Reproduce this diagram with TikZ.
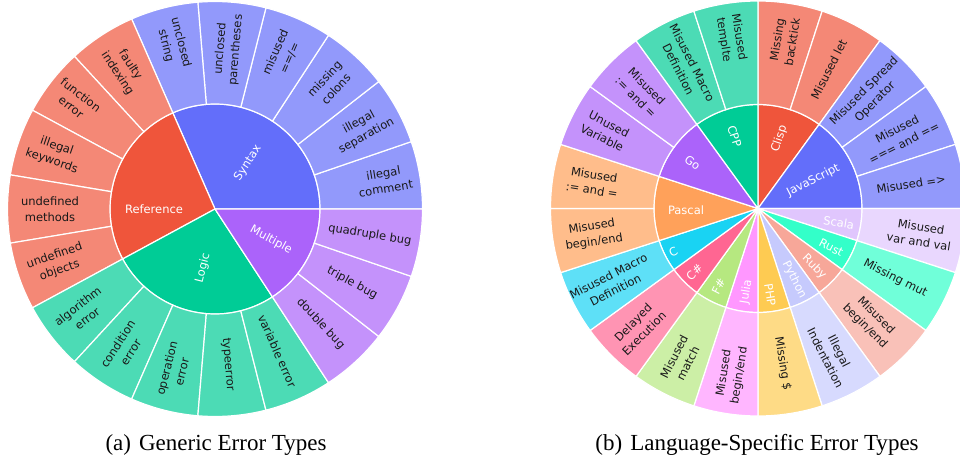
\documentclass[tikz,border=0pt]{standalone}
\usepackage{fontspec}
\setmainfont{Liberation Serif}
\newfontfamily\plotfont{DejaVu Sans}
%Farben
\definecolor{colSyn}{HTML}{636EFA}
\definecolor{colRef}{HTML}{EF553B}
\definecolor{colLog}{HTML}{00CC96}
\definecolor{colMul}{HTML}{AB63FA}
\definecolor{colJS}{HTML}{636EFA}
\definecolor{colClisp}{HTML}{EF553B}
\definecolor{colCPP}{HTML}{00CC96}
\definecolor{colGo}{HTML}{AB63FA}
\definecolor{colPascal}{HTML}{FFA15A}
\definecolor{colC}{HTML}{19D3F3}
\definecolor{colCS}{HTML}{FF6692}
\definecolor{colFS}{HTML}{B6E880}
\definecolor{colJulia}{HTML}{FF97FF}
\definecolor{colPHP}{HTML}{FECB52}
\definecolor{colPython}{HTML}{C6CAFD}
\definecolor{colRuby}{HTML}{F7A799}
\definecolor{colRust}{HTML}{33FFC9}
\definecolor{colScala}{HTML}{E0C6FD}
%Ringsektor: r1, r2, Winkel a, Winkel b, Farbe
\newcommand\sektor[5]{%
	\filldraw[fill=#5,draw=white,line width=1.2pt] (#3:#1) arc[start angle=#3,end angle=#4,radius=#1] -- (#4:#2) arc[start angle=#4,end angle=#3,radius=#2] -- cycle;}
\def\blaetterA{0/colSyn/172/{illegal\\comment},1/colSyn/168/{illegal\\separation},2/colSyn/170/{missing\\colons},3/colSyn/168/{misused\\==/=},4/colSyn/160/{unclosed\\parentheses},5/colSyn/170/{unclosed\\string},6/colRef/167/{faulty\\indexing},7/colRef/176/{function\\error},8/colRef/170/{illegal\\keywords},9/colRef/165/{undefined\\methods},10/colRef/167/{undefined\\objects},11/colLog/168/{algorithm\\error},12/colLog/166/{condition\\error},13/colLog/166/{operation\\error},14/colLog/156/{typeerror},15/colLog/155/{variable error},16/colMul/156/{double bug},17/colMul/156/{triple bug},18/colMul/157/{quadruple bug}}
\def\blaetterB{0/colClisp/170/{Missing\\backtick},1/colClisp/156/{Misused let},2/colJS/158/{Misused Spread\\Operator},3/colJS/160/{Misused\\=== and ==},4/colJS/155/{Misused =>},5/colScala/164/{Misused\\var and val},6/colRust/154/{Missing mut},7/colRuby/159/{Misused\\begin/end},8/colPython/164/{Illegal\\Indentation},9/colPHP/157/{Missing \$},10/colJulia/168/{Misused\\begin/end},11/colFS/170/{Misused\\match},12/colCS/169/{Delayed\\Execution},13/colC/164/{Misused Macro\\Definition},14/colPascal/167/{Misused\\begin/end},15/colPascal/167/{Misused\\:= and =},16/colGo/171/{Unused\\Variable},17/colGo/165/{Misused\\:= and =},18/colCPP/160/{Misused Macro\\Definition},19/colCPP/172/{Misused\\templte}}
\begin{document}
\begin{tikzpicture}[x=1pt,y=1pt,
	leaf/.style={font=\plotfont\fontsize{11.5}{15.5}\selectfont,align=center,text=black!90,inner sep=0pt},
	inner/.style={leaf,text=white}]
	\useasboundingbox (0,0) rectangle (960,459);
	%Generische Fehler
	\begin{scope}[shift={(215,250)}]
		\foreach \i/\j/\col in {0/6/colSyn,6/11/colRef,11/16/colLog,16/19/colMul}{
			\pgfmathsetmacro\wa{\i*360/19}
			\pgfmathsetmacro\wb{\j*360/19}
			\sektor{0.01}{105}{\wa}{\wb}{\col}
		}
		\foreach \i/\col/\rad/\txt in \blaetterA{
			\pgfmathsetmacro\wa{\i*360/19}
			\pgfmathsetmacro\wb{(\i+1)*360/19}
			\sektor{105}{207.5}{\wa}{\wb}{\col!70!white}
		}
		\foreach \i/\col/\rad/\txt in \blaetterA{
			\pgfmathsetmacro\m{(\i+0.5)*360/19}
			\pgfmathsetmacro\rot{cos(\m)>=0 ? \m : \m-180}
			\node[leaf,rotate=\rot] (a\i) at (\m:\rad) {\txt};
		}
		\node[inner,rotate=56.8] (syntax) at (33,46) {Syntax};
		\node[inner] (reference) at (-61,0) {Reference};
		\node[inner,rotate=75.8] (logic) at (-12,-59) {Logic};
		\node[inner,rotate=-28.4] (multiple) at (56,-31) {Multiple};
	\end{scope}
	%Sprachspezifische Fehler
	\begin{scope}[shift={(758,250.5)}]
		\foreach \i/\j/\col in {0/2/colClisp,2/5/colJS,5/6/colScala,6/7/colRust,7/8/colRuby,8/9/colPython,9/10/colPHP,10/11/colJulia,11/12/colFS,12/13/colCS,13/14/colC,14/16/colPascal,16/18/colGo,18/20/colCPP}{
			\pgfmathsetmacro\wa{90-\j*18}
			\pgfmathsetmacro\wb{90-\i*18}
			\sektor{0.01}{104}{\wa}{\wb}{\col}
		}
		\foreach \i/\col/\rad/\txt in \blaetterB{
			\pgfmathsetmacro\wa{90-(\i+1)*18}
			\pgfmathsetmacro\wb{90-\i*18}
			\sektor{104}{207.5}{\wa}{\wb}{\col!70!white}
		}
		\foreach \i/\col/\rad/\txt in \blaetterB{
			\pgfmathsetmacro\m{81-\i*18}
			\pgfmathsetmacro\rot{cos(\m)>=0 ? \m : \m-180}
			\node[leaf,rotate=\rot] (b\i) at (\m:\rad) {\txt};
		}
		\node[inner,rotate=72] (clisp) at (73:73) {Clisp};
		\node[inner,rotate=-72] (cpp) at (108:76) {CPP};
		\node[inner,rotate=27] (js) at (27:62) {JavaScript};
		\node[inner,rotate=-36] (go) at (145:80) {Go};
		\node[inner] (pascal) at (181:72) {Pascal};
		\node[inner,rotate=27] (c) at (207:95) {C};
		\node[inner,rotate=45] (cs) at (225:90) {C\#};
		\node[inner,rotate=63] (fs) at (243:87) {F\#};
		\node[inner,rotate=81] (julia) at (262:84) {Julia};
		\node[inner,rotate=-81] (php) at (278:87) {PHP};
		\node[inner,rotate=-63] (python) at (297:80) {Python};
		\node[inner,rotate=-45] (ruby) at (314:81) {Ruby};
		\node[inner,rotate=-27] (rust) at (332:83) {Rust};
		\node[inner,rotate=-9] (scala) at (350:82) {Scala};
	\end{scope}
	%Unterschriften
	\node[anchor=base,font=\fontsize{23}{27}\selectfont] (capA) at (216,9) {(a)\hspace{0.35em}Generic Error Types};
	\node[anchor=base,font=\fontsize{23}{27}\selectfont] (capB) at (757,9) {(b)\hspace{0.35em}Language-Specific Error Types};
\end{tikzpicture}
\end{document}
